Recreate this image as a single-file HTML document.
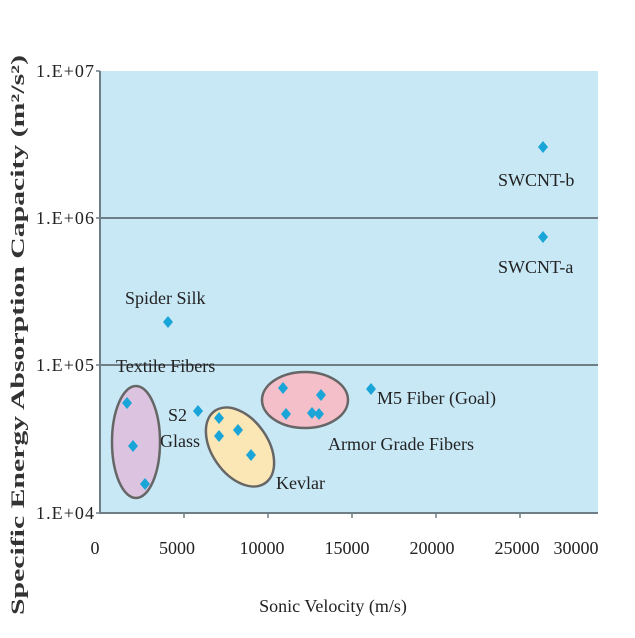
<!DOCTYPE html>
<html><head><style>body{margin:0;background:#fff}</style></head><body>
<svg width="635" height="633" xmlns="http://www.w3.org/2000/svg" font-family="Liberation Serif, serif" fill="#222">
<rect x="100" y="71" width="498" height="442" fill="#c8e8f6"/>
<line x1="100" y1="218" x2="598" y2="218" stroke="#6f7e86" stroke-width="2"/>
<line x1="100" y1="365" x2="598" y2="365" stroke="#6f7e86" stroke-width="2"/>
<line x1="100" y1="71" x2="100" y2="514" stroke="#6f7e86" stroke-width="2"/>
<line x1="99" y1="513" x2="598" y2="513" stroke="#6f7e86" stroke-width="2"/>
<g stroke="#6f7e86" stroke-width="1.5">
<line x1="96" y1="71" x2="100" y2="71"/><line x1="96" y1="218" x2="100" y2="218"/><line x1="96" y1="365" x2="100" y2="365"/><line x1="96" y1="513" x2="100" y2="513"/>
<line x1="184" y1="513" x2="184" y2="518"/><line x1="268" y1="513" x2="268" y2="518"/><line x1="352" y1="513" x2="352" y2="518"/><line x1="436" y1="513" x2="436" y2="518"/><line x1="520" y1="513" x2="520" y2="518"/>
</g>
<g font-size="18" text-anchor="end">
<text x="94" y="77" textLength="58">1.E+07</text><text x="94" y="224" textLength="58">1.E+06</text><text x="94" y="371" textLength="58">1.E+05</text><text x="94" y="519" textLength="58">1.E+04</text>
</g>
<g font-size="18" text-anchor="middle">
<text x="95" y="554">0</text><text x="177" y="554">5000</text><text x="262" y="554">10000</text><text x="347" y="554">15000</text><text x="432" y="554">20000</text><text x="517" y="554">25000</text><text x="576" y="554">30000</text>
</g>
<text x="333" y="612" font-size="18" text-anchor="middle">Sonic Velocity (m/s)</text>
<text transform="translate(24,335) rotate(-90)" font-size="19" font-weight="bold" fill="#333" text-anchor="middle" textLength="560" lengthAdjust="spacingAndGlyphs">Specific Energy Absorption Capacity (m²/s²)</text>
<ellipse cx="136" cy="442" rx="24" ry="56" fill="#dcc4e0" stroke="#666" stroke-width="2.5"/>
<ellipse cx="240" cy="447" rx="28" ry="44" transform="rotate(-35 240 447)" fill="#fbe6b5" stroke="#666" stroke-width="2.5"/>
<ellipse cx="305" cy="400" rx="43" ry="28" fill="#f4bfc8" stroke="#666" stroke-width="2.5"/>
<g fill="#1aa5d8">
<path d="M543 141l5 6-5 6-5-6z"/><path d="M543 231l5 6-5 6-5-6z"/><path d="M168 316l5 6-5 6-5-6z"/>
<path d="M127 397l5 6-5 6-5-6z"/><path d="M133 440l5 6-5 6-5-6z"/><path d="M145 478l5 6-5 6-5-6z"/>
<path d="M198 405l5 6-5 6-5-6z"/>
<path d="M219 412l5 6-5 6-5-6z"/><path d="M219 430l5 6-5 6-5-6z"/><path d="M238 424l5 6-5 6-5-6z"/><path d="M251 449l5 6-5 6-5-6z"/>
<path d="M283 382l5 6-5 6-5-6z"/><path d="M286 408l5 6-5 6-5-6z"/><path d="M312 407l5 6-5 6-5-6z"/><path d="M319 408l5 6-5 6-5-6z"/><path d="M321 389l5 6-5 6-5-6z"/>
<path d="M371 383l5 6-5 6-5-6z"/>
</g>
<g font-size="18">
<text x="498" y="186">SWCNT-b</text><text x="498" y="273">SWCNT-a</text>
<text x="125" y="304">Spider Silk</text><text x="116" y="372">Textile Fibers</text>
<text x="168" y="421">S2</text><text x="160" y="447">Glass</text>
<text x="276" y="489">Kevlar</text><text x="328" y="450">Armor Grade Fibers</text>
<text x="377" y="404">M5 Fiber (Goal)</text>
</g>
</svg>
</body></html>
